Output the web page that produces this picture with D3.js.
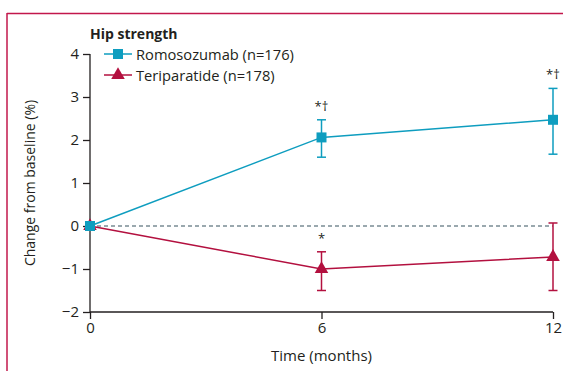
<!DOCTYPE html>
<html>
<head>
<meta charset="utf-8">
<script src="https://cdn.jsdelivr.net/npm/d3@7/dist/d3.min.js"></script>
<style>
  html, body { margin: 0; padding: 0; background: #fff; }
  svg text { font-family: "Open Sans", "Noto Sans", sans-serif; fill: #231f20; }
</style>
</head>
<body>
<svg id="chart" width="563" height="371"></svg>
<script>
// Hip strength: change from baseline (%) over 12 months
const months = [0, 6, 12];
const romoMean = [0, 2.06, 2.47];
const romoLow  = [0, 1.60, 1.67];
const romoHigh = [0, 2.47, 3.20];
const teriMean = [0, -1.00, -0.72];
const teriLow  = [0, -1.50, -1.50];
const teriHigh = [0, -0.60, 0.07];
const romoNotes = ["", "*†", "*†"];
const teriNotes = ["", "*", ""];
const yTicks = [-2, -1, 0, 1, 2, 3, 4];
const xTicks = [0, 6, 12];
const seriesNames = ["Romosozumab (n=176)", "Teriparatide (n=178)"];

const romoColor = "#0e9dbf";
const teriColor = "#b3103f";
const frameColor = "#c2174b";

const svg = d3.select("#chart");

// page frame
svg.append("line").attr("x1", 7).attr("x2", 563).attr("y1", 13.5).attr("y2", 13.5)
  .attr("stroke", frameColor).attr("stroke-width", 1.5);
svg.append("line").attr("x1", 7).attr("x2", 7).attr("y1", 13).attr("y2", 371)
  .attr("stroke", frameColor).attr("stroke-width", 1.5);

const x = d3.scaleLinear().domain([0, 12]).range([90, 553]);
const y = d3.scaleLinear().domain([-2, 4]).range([312, 54]);

// axes
const yAxis = svg.append("g").attr("transform", `translate(${x(0)},0)`)
  .call(d3.axisLeft(y).tickValues(yTicks).tickSize(7).tickPadding(4)
    .tickFormat(d => d < 0 ? "\u2212" + Math.abs(d) : d));
const xAxis = svg.append("g").attr("transform", `translate(0,${y(-2)})`)
  .call(d3.axisBottom(x).tickValues(xTicks).tickSize(7).tickPadding(3));
[yAxis, xAxis].forEach(g => {
  g.select(".domain").attr("stroke", "#231f20").attr("stroke-width", 1.3);
  g.selectAll(".tick line").attr("stroke", "#231f20").attr("stroke-width", 1.3);
  g.selectAll(".tick text").style("font-size", "15px").attr("fill", "#231f20");
});
yAxis.select(".domain").attr("d", `M0,${y(4)}V${y(-2)}`);
xAxis.select(".domain").attr("d", `M${x(0)},0H${x(12)}`);

// baseline reference
svg.append("line").attr("x1", x(0)).attr("x2", x(12)).attr("y1", y(0)).attr("y2", y(0))
  .attr("stroke", "#7a8c94").attr("stroke-width", 1.3).attr("stroke-dasharray", "4,3");

// axis titles
svg.append("text").attr("x", x(6)).attr("y", 361).attr("text-anchor", "middle")
  .style("font-size", "15px").text("Time (months)");
svg.append("text").attr("transform", `translate(35,${y(1)}) rotate(-90)`)
  .attr("text-anchor", "middle").style("font-size", "14px").text("Change from baseline (%)");

// chart title
svg.append("text").attr("x", 90).attr("y", 39).style("font-size", "14px")
  .style("font-weight", "bold").text("Hip strength");

function drawSeries(mean, low, high, notes, color, shape) {
  const g = svg.append("g");
  const pts = months.map((m, i) => ({ m, v: mean[i], lo: low[i], hi: high[i], note: notes[i] }));
  g.append("path").datum(pts)
    .attr("d", d3.line().x(d => x(d.m)).y(d => y(d.v)))
    .attr("fill", "none").attr("stroke", color).attr("stroke-width", 1.5);
  const eb = pts.filter(d => d.hi !== d.lo);
  g.selectAll(".eb").data(eb).join("line")
    .attr("x1", d => x(d.m)).attr("x2", d => x(d.m))
    .attr("y1", d => y(d.lo)).attr("y2", d => y(d.hi))
    .attr("stroke", color).attr("stroke-width", 1.5);
  ["lo", "hi"].forEach(k => {
    g.selectAll(".cap" + k).data(eb).join("line")
      .attr("x1", d => x(d.m) - 4.5).attr("x2", d => x(d.m) + 4.5)
      .attr("y1", d => y(d[k])).attr("y2", d => y(d[k]))
      .attr("stroke", color).attr("stroke-width", 1.5);
  });
  g.selectAll(".mk").data(pts).join("path")
    .attr("transform", d => `translate(${x(d.m)},${y(d.v)})`)
    .attr("d", d3.symbol().type(shape).size(shape === d3.symbolSquare ? 100 : 80))
    .attr("fill", color);
  g.selectAll(".note").data(pts.filter(d => d.note)).join("text")
    .attr("x", d => x(d.m)).attr("y", d => y(d.hi) - 9)
    .attr("text-anchor", "middle").style("font-size", "13px").attr("fill", "#444")
    .text(d => d.note);
}

drawSeries(teriMean, teriLow, teriHigh, teriNotes, teriColor, d3.symbolTriangle);
drawSeries(romoMean, romoLow, romoHigh, romoNotes, romoColor, d3.symbolSquare);

// legend
const legend = svg.append("g");
[[romoColor, d3.symbolSquare, 100], [teriColor, d3.symbolTriangle, 80]].forEach(([c, s, sz], i) => {
  const ly = 54 + i * 21;
  legend.append("line").attr("x1", 104).attr("x2", 132).attr("y1", ly).attr("y2", ly)
    .attr("stroke", c).attr("stroke-width", 1.5);
  legend.append("path").attr("transform", `translate(118,${ly})`)
    .attr("d", d3.symbol().type(s).size(sz)).attr("fill", c);
  legend.append("text").attr("x", 136).attr("y", ly + 5.5).style("font-size", "14.7px")
    .text(seriesNames[i]);
});
</script>
</body>
</html>
